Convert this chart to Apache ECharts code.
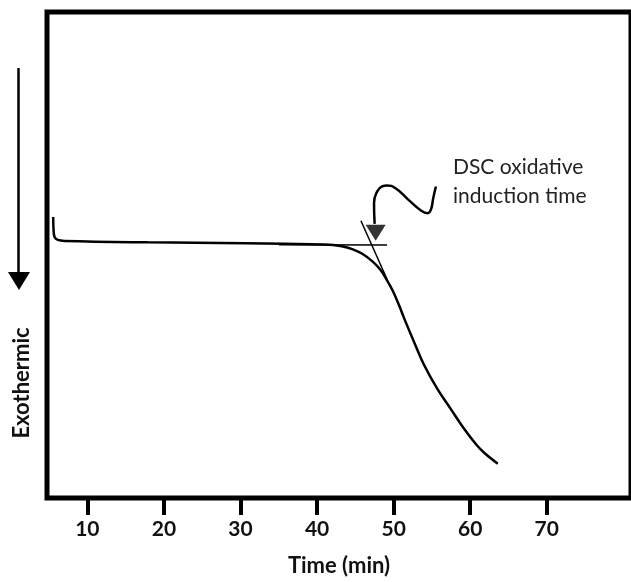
<!DOCTYPE html>
<html>
<head>
<meta charset="utf-8">
<script src="https://cdn.jsdelivr.net/npm/echarts@6/dist/echarts.min.js"></script>
<style>html,body{margin:0;padding:0;background:#fff;}#c{width:631px;height:582px;}</style>
</head>
<body>
<div id="c"></div>
<script>
// x tick labels (min)
const xTicks = [10, 20, 30, 40, 50, 60, 70];
// DSC trace: time (min) and signal (arbitrary units, exothermic downward)
const traceTime = [5.54, 5.60, 5.75, 6.14, 7.03, 17.88, 30.64, 40.84, 42.12, 43.39, 44.67, 45.95, 47.23, 48.25, 49.14, 49.90, 50.67, 51.47, 52.75, 54.03, 55.73, 57.43, 59.13, 60.84, 61.90, 63.60];
const traceSignal = [57.8, 54.8, 53.6, 53.1, 52.9, 52.6, 52.4, 52.16, 52.06, 51.76, 51.16, 50.2, 48.7, 47.0, 44.8, 42.6, 39.8, 36.6, 31.8, 27.2, 22.4, 18.4, 14.4, 10.9, 9.2, 7.06];
// extrapolated baseline
const baseTime = [35.0, 49.14];
const baseSignal = [52.1, 52.06];
// tangent to the onset of oxidation
const tanTime = [45.73, 49.14];
const tanSignal = [57.06, 45.0];
// squiggly annotation arrow
const arrowTime = [47.52, 47.44, 47.86, 48.50, 49.14, 50.20, 51.91, 53.61, 54.46, 54.88, 55.17, 55.52];
const arrowSignal = [56.4, 60.7, 63.1, 64.1, 64.3, 63.8, 61.4, 59.1, 58.6, 59.4, 61.7, 64.1];
const arrowHead = [47.65, 54.6];

const ff = 'Lato, "Open Sans", sans-serif';
const chart = echarts.init(document.getElementById('c'), null, {renderer: 'canvas'});
const zip = (a, b) => a.map((v, i) => [v, b[i]]);
chart.setOption({
  animation: false,
  backgroundColor: '#fff',
  grid: {left: 47, top: 12, bottom: 70, right: -14, show: true, borderColor: '#000', borderWidth: 5, containLabel: false},
  xAxis: {
    type: 'value', min: 4.73, max: 81,
    axisLine: {show: false},
    splitLine: {show: false},
    axisTick: {show: true, inside: false, length: 17, customValues: xTicks, lineStyle: {color: '#000', width: 4}},
    axisLabel: {show: true, customValues: xTicks, margin: 21, color: '#111', fontFamily: ff, fontWeight: 'bold', fontSize: 21},
    name: 'Time (min)', nameLocation: 'middle', nameGap: 57,
    nameTextStyle: {color: '#111', fontFamily: ff, fontWeight: 'bold', fontSize: 22}
  },
  yAxis: {
    type: 'value', min: 0, max: 100,
    axisLine: {show: false}, axisTick: {show: false}, axisLabel: {show: false}, splitLine: {show: false}
  },
  series: [
    {type: 'line', data: zip(traceTime, traceSignal), smooth: 0.4, symbol: 'none', lineStyle: {color: '#000', width: 2.5}},
    {type: 'line', data: zip(baseTime, baseSignal), symbol: 'none', lineStyle: {color: '#000', width: 1.5}},
    {type: 'line', data: zip(tanTime, tanSignal), symbol: 'none', lineStyle: {color: '#000', width: 1.5}},
    {type: 'line', data: zip(arrowTime, arrowSignal), smooth: 0.5, symbol: 'none', lineStyle: {color: '#000', width: 2.5}},
    {type: 'scatter', data: [arrowHead], symbol: 'triangle', symbolSize: [20, 16], symbolRotate: 180, itemStyle: {color: '#000'}}
  ],
  graphic: [
    {type: 'line', shape: {x1: 18.5, y1: 68, x2: 18.5, y2: 274}, style: {stroke: '#000', lineWidth: 2.5}},
    {type: 'polygon', shape: {points: [[8, 272], [30, 272], [19, 290]]}, style: {fill: '#000'}},
    {type: 'text', x: 21.7, y: 383, rotation: Math.PI / 2, style: {text: 'Exothermic', fill: '#111', font: 'bold 22px ' + ff, align: 'center', verticalAlign: 'middle'}},
    {type: 'text', left: 453, top: 153, style: {text: 'DSC oxidative\ninduction time', fill: '#222', font: '21px ' + ff, lineHeight: 29}}
  ]
});
</script>
</body>
</html>
